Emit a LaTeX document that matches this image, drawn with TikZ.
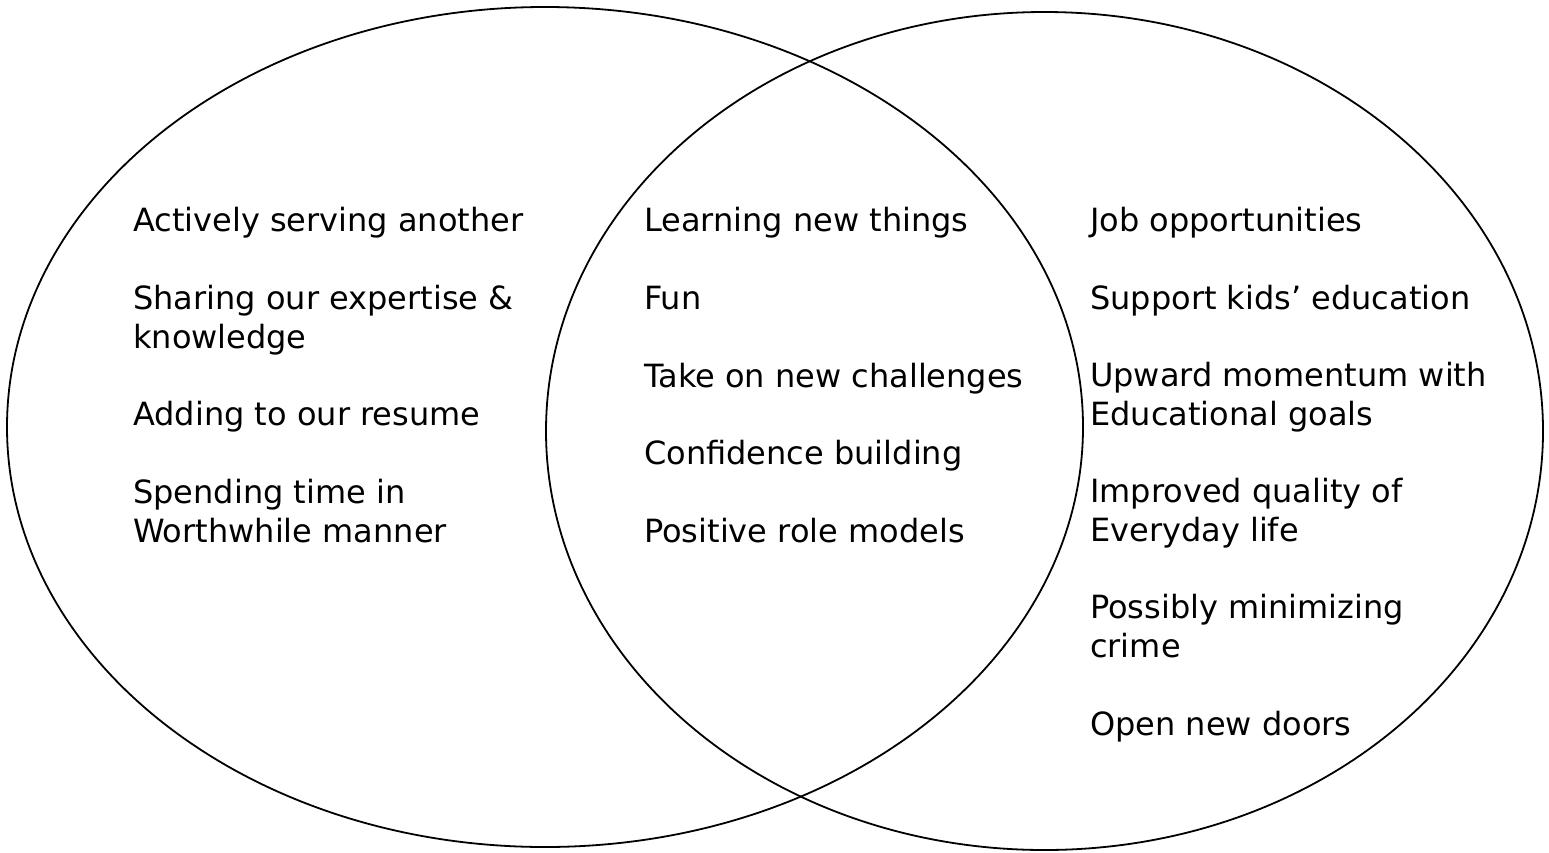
\documentclass[tikz,border=0pt]{standalone}
\usepackage{fontspec}
\setmainfont{DejaVu Sans}
\begin{document}
\begin{tikzpicture}[x=1pt,y=-1pt,
  circ/.style={draw=black,line width=1.8pt},
  item/.style={anchor=base west,align=left,inner sep=0pt,
     font=\fontsize{32}{38.7}\selectfont}]
\useasboundingbox (0,0) rectangle (1549,852);
\fill[white] (0,0) rectangle (1549,852);
\draw[circ] (545,427) ellipse [x radius=538, y radius=420];
\draw[circ] (1044.5,431) ellipse [x radius=498.5, y radius=419];
% left (base anchor = baseline of last line)
\node[item] (l1) at (133,231) {Actively serving another};
\node[item] (l2) at (133,348) {Sharing our expertise \&\\knowledge};
\node[item] (l3) at (133,425) {Adding to our resume};
\node[item] (l4) at (133,542) {Spending time in\\Worthwhile manner};
% middle
\node[item] (m1) at (644,231) {Learning new things};
\node[item] (m2) at (644,309) {Fun};
\node[item] (m3) at (644,387) {Take on new challenges};
\node[item] (m4) at (644,464) {Confidence building};
\node[item] (m5) at (644,542) {Positive role models};
% right
\node[item] (r1) at (1090,231) {Job opportunities};
\node[item] (r2) at (1090,309) {Support kids’ education};
\node[item] (r3) at (1090,425) {Upward momentum with\\Educational goals};
\node[item] (r4) at (1090,541) {Improved quality of\\Everyday life};
\node[item] (r5) at (1090,657) {Possibly minimizing\\crime};
\node[item] (r6) at (1090,735) {Open new doors};
\end{tikzpicture}
\end{document}
